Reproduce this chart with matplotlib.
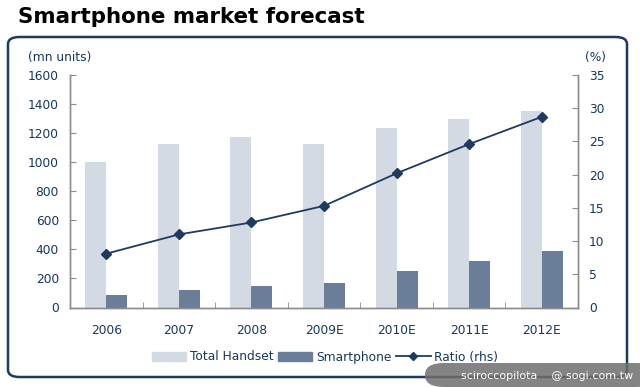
import matplotlib.pyplot as plt
import numpy as np
from matplotlib.patches import FancyBboxPatch
from matplotlib.lines import Line2D
from matplotlib.patches import Patch

years = ["2006", "2007", "2008", "2009E", "2010E", "2011E", "2012E"]
total_handset = [1000, 1122, 1172, 1122, 1236, 1295, 1353]
smartphone = [85, 117, 145, 172, 248, 317, 386]
ratio = [8.1, 11.0, 12.8, 15.3, 20.2, 24.6, 28.7]

c_total = "#d3dae3"
c_smart = "#6a7d99"
c_line = "#1f3a60"
c_text = "#17375e"
c_spine = "#8c8c8c"

fig = plt.figure(figsize=(6.4, 3.87), dpi=100)

# title and rounded frame
fig.text(18 / 640, 1 - 17 / 387, "Smartphone market forecast", fontsize=15.4,
         fontweight="bold", color="black", ha="left", va="center")
frame = FancyBboxPatch((8 / 640, 1 - 377 / 387), 619 / 640, 340 / 387,
                       boxstyle="round,pad=0,rounding_size=0.018",
                       transform=fig.transFigure, fill=False,
                       edgecolor=c_line, linewidth=1.8, zorder=0)
fig.patches.append(frame)

ax = fig.add_axes([70 / 640, 1 - 307.5 / 387, 508 / 640, 232.5 / 387])
x = np.arange(len(years))
w = 0.29
ax.bar(x - w / 2, total_handset, w, color=c_total, zorder=2)
ax.bar(x + w / 2, smartphone, w, color=c_smart, zorder=2)
ax.set_xlim(-0.5, 6.5)
ax.set_ylim(0, 1600)
ax.set_yticks(np.arange(0, 1601, 200))

ax2 = ax.twinx()
ax2.plot(x, ratio, color=c_line, marker="D", markersize=5.5, linewidth=1.3, zorder=3)
ax2.set_ylim(0, 35)
ax2.set_yticks(np.arange(0, 36, 5))

for a in (ax, ax2):
    a.spines["top"].set_visible(False)
    for s in ("left", "right", "bottom"):
        a.spines[s].set_color(c_spine)
        a.spines[s].set_linewidth(1.0)
    a.tick_params(axis="y", direction="in", length=4, color=c_spine,
                  labelsize=8.8, labelcolor=c_text, pad=8)

ax.set_xticks(x)
ax.set_xticklabels(years)
ax.set_xticks(x[:-1] + 0.5, minor=True)
ax.tick_params(axis="x", which="major", length=0, labelsize=8.8,
               labelcolor=c_text, pad=12)
ax.tick_params(axis="x", which="minor", direction="in", length=4, color=c_spine)

fig.text(28 / 640, 1 - 58 / 387, "(mn units)", fontsize=8.8, color=c_text,
         ha="left", va="center")
fig.text(585 / 640, 1 - 58 / 387, "(%)", fontsize=8.8, color=c_text,
         ha="left", va="center")

handles = [Patch(color=c_total), Patch(color=c_smart),
           Line2D([], [], color=c_line, marker="D", markersize=4, linewidth=1.3)]
fig.legend(handles, ["Total Handset", "Smartphone", "Ratio (rhs)"],
           loc="center", bbox_to_anchor=(325 / 640, 1 - 357 / 387), ncol=3,
           frameon=False, fontsize=8.8, labelcolor=c_text, handlelength=2.8,
           handleheight=0.8, handletextpad=0.3, columnspacing=0.4)

# watermark
wm = FancyBboxPatch((425 / 640, 0), 230 / 640, 24 / 387,
                    boxstyle="round,pad=0,rounding_size=0.03",
                    transform=fig.transFigure, facecolor="#6e6e6e",
                    edgecolor="none", alpha=0.85, zorder=5)
fig.patches.append(wm)
fig.text(633 / 640, 1 - 376 / 387, "sciroccopilota    @ sogi.com.tw", fontsize=8,
         color="white", ha="right", va="center", zorder=6)

fig.savefig("out.png", dpi=100)
